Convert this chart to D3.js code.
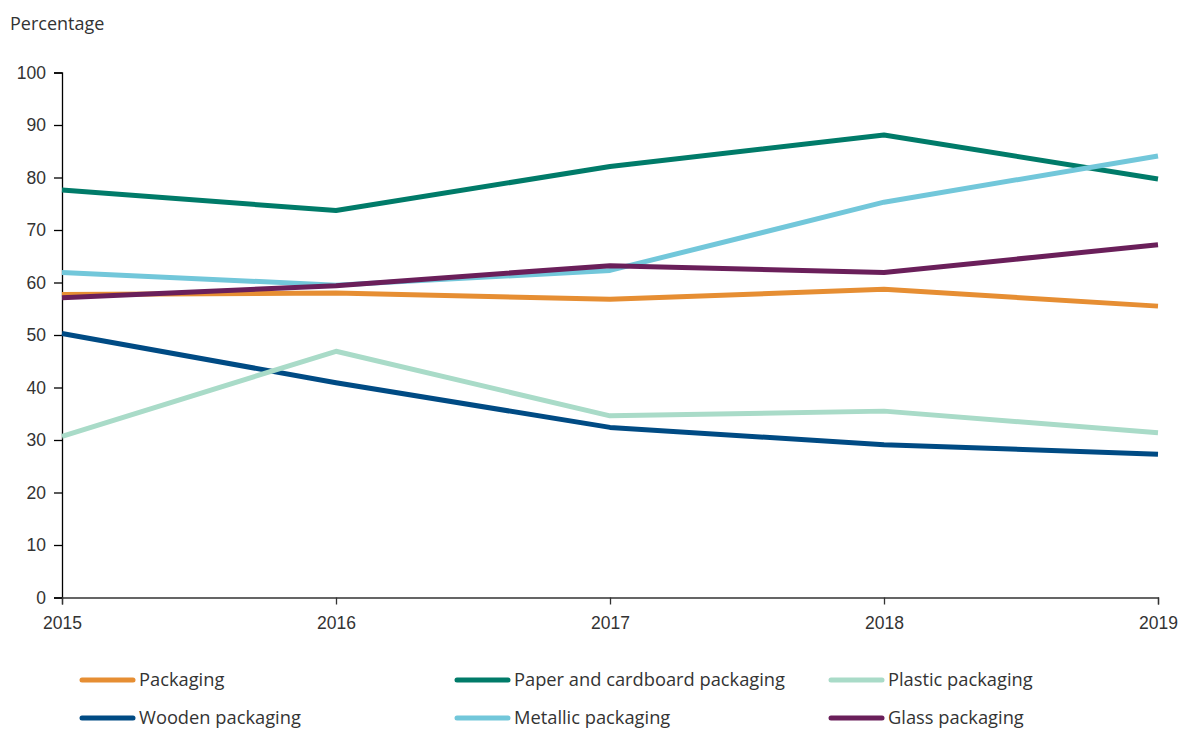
<!DOCTYPE html>
<html>
<head>
<meta charset="utf-8">
<script src="https://cdn.jsdelivr.net/npm/d3@7"></script>
<style>
  html, body { margin: 0; padding: 0; background: #fff; }
  svg { display: block; font-family: "Open Sans", "Noto Sans", sans-serif; }
</style>
</head>
<body>
<svg id="chart" width="1183" height="729"></svg>
<script>
const years = [2015, 2016, 2017, 2018, 2019];
const yTicks = [0, 10, 20, 30, 40, 50, 60, 70, 80, 90, 100];
const seriesNames = ["Packaging", "Paper and cardboard packaging", "Plastic packaging",
                     "Wooden packaging", "Metallic packaging", "Glass packaging"];
const packaging = [57.7, 58.0, 56.8, 58.7, 55.5];
const paper     = [77.6, 73.7, 82.1, 88.1, 79.7];
const plastic   = [30.7, 46.9, 34.6, 35.5, 31.4];
const wooden    = [50.3, 40.9, 32.4, 29.1, 27.3];
const metallic  = [61.9, 59.5, 62.3, 75.3, 84.1];
const glass     = [57.1, 59.4, 63.2, 61.9, 67.2];
const colors = ["#E68E33", "#007B69", "#A9DBC8", "#004B84", "#72C7DA", "#6A1F5A"];

const seriesValues = [packaging, paper, plastic, wooden, metallic, glass];
const drawOrder = [3, 2, 1, 0, 4, 5];

const svg = d3.select("#chart");
const mLeft = 62, mRight = 1158, mTop = 72.5, mBottom = 597.5;

const x = d3.scaleLinear().domain([2015, 2019]).range([mLeft, mRight]);
const y = d3.scaleLinear().domain([0, 100]).range([mBottom, mTop]);

// Y axis
const yAxis = svg.append("g")
  .attr("transform", `translate(${mLeft},0)`)
  .call(d3.axisLeft(y).tickValues(yTicks).tickSize(8).tickPadding(8).tickFormat(d3.format("d")));
yAxis.select(".domain").attr("stroke", "#000").attr("stroke-width", 1.3);
yAxis.selectAll(".tick line").attr("stroke", "#000").attr("stroke-width", 1.3);
yAxis.selectAll(".tick text").attr("fill", "#333").attr("font-size", 17.5);

// X axis
const xAxis = svg.append("g")
  .attr("transform", `translate(0,${mBottom})`)
  .call(d3.axisBottom(x).tickValues(years).tickSize(7).tickPadding(12).tickFormat(d3.format("d")));
xAxis.select(".domain").attr("stroke", "#333").attr("stroke-width", 1.3);
xAxis.selectAll(".tick line").attr("stroke", "#333").attr("stroke-width", 1.3);
xAxis.selectAll(".tick text").attr("fill", "#333").attr("font-size", 17.5);

// Y title
svg.append("text").attr("x", 10).attr("y", 30)
  .attr("fill", "#333").attr("font-size", 18).text("Percentage");

// Lines
const line = d3.line().x((d, i) => x(years[i])).y(d => y(d));
drawOrder.forEach(k => {
  svg.append("path")
    .datum(seriesValues[k])
    .attr("d", line)
    .attr("fill", "none")
    .attr("stroke", colors[k])
    .attr("stroke-width", 5)
    .attr("stroke-linejoin", "round");
});

// Legend
const legX = [80, 455, 829];
const legY = [680, 718];
seriesNames.forEach((name, i) => {
  const col = i % 3, row = Math.floor(i / 3);
  const g = svg.append("g").attr("transform", `translate(${legX[col]},${legY[row]})`);
  g.append("line").attr("x1", 2).attr("x2", 53).attr("y1", 0).attr("y2", 0)
    .attr("stroke", colors[i]).attr("stroke-width", 5).attr("stroke-linecap", "round");
  g.append("text").attr("x", 59).attr("y", 0).attr("dy", "0.35em")
    .attr("fill", "#333").attr("font-size", 18.3).text(name);
});
</script>
</body>
</html>
